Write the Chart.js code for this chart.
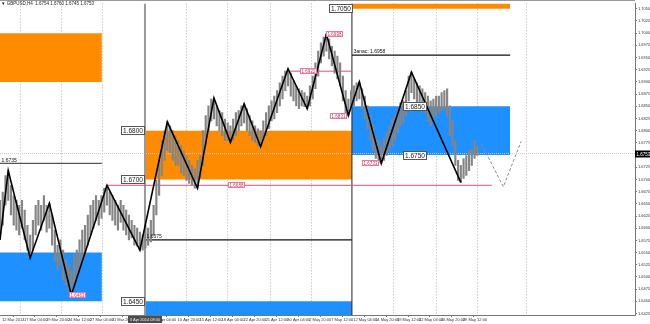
<!DOCTYPE html>
<html>
<head>
<meta charset="utf-8">
<script src="https://cdn.jsdelivr.net/npm/chart.js@4"></script>
<style>
  html, body { margin: 0; padding: 0; background: #fff; }
  #wrap { width: 650px; height: 324px; }
</style>
</head>
<body>
<div id="wrap"><canvas id="chart" width="650" height="324"></canvas></div>
<script>
// GBPUSD H4, one bar every two H4 periods (bar index = H4 period count from the left edge)
const timeLabels = ['12 Mar 2014', '17 Mar 04:00', '19 Mar 20:00', '24 Mar 12:00', '27 Mar 04:00', '31 Mar 20:00',
  '3 Apr 12:00', '8 Apr 04:00', '10 Apr 20:00', '15 Apr 12:00', '18 Apr 04:00', '22 Apr 20:00', '25 Apr 12:00',
  '30 Apr 04:00', '2 May 20:00', '7 May 12:00', '12 May 04:00', '14 May 20:00', '19 May 12:00', '22 May 04:00',
  '26 May 20:00', '29 May 12:00'];
const priceTicks = [1.6425, 1.6450, 1.6475, 1.6500, 1.6525, 1.6550, 1.6575, 1.6600, 1.6625, 1.6650, 1.6675,
  1.6700, 1.6725, 1.6750, 1.6775, 1.6800, 1.6825, 1.6850, 1.6875, 1.6900, 1.6925, 1.6950, 1.6975, 1.7000,
  1.7025, 1.7050];

const highs = [1.6657, 1.6674, 1.6708, 1.6718, 1.6688, 1.6667, 1.6657, 1.6647, 1.6657, 1.6637,
  1.6606, 1.6586, 1.6616, 1.6647, 1.6657, 1.6647, 1.6667, 1.6647, 1.6651, 1.6627,
  1.6596, 1.6565, 1.6576, 1.6555, 1.6535, 1.6525, 1.6514, 1.6545, 1.6555, 1.6576,
  1.6596, 1.6606, 1.6627, 1.6647, 1.6657, 1.6667, 1.6657, 1.6667, 1.6682, 1.6688,
  1.6674, 1.6667, 1.6657, 1.6647, 1.6657, 1.6647, 1.6637, 1.6627, 1.6616, 1.6606,
  1.6600, 1.6592, 1.6586, 1.6606, 1.6600, 1.6616, 1.6647, 1.6698, 1.6739, 1.6780,
  1.6800, 1.6818, 1.6810, 1.6800, 1.6790, 1.6780, 1.6769, 1.6759, 1.6749, 1.6739,
  1.6729, 1.6722, 1.6739, 1.6749, 1.6800, 1.6831, 1.6851, 1.6865, 1.6867, 1.6851,
  1.6841, 1.6837, 1.6824, 1.6816, 1.6810, 1.6824, 1.6837, 1.6841, 1.6851, 1.6855,
  1.6845, 1.6831, 1.6820, 1.6810, 1.6804, 1.6800, 1.6820, 1.6837, 1.6851, 1.6861,
  1.6871, 1.6882, 1.6898, 1.6912, 1.6922, 1.6927, 1.6918, 1.6902, 1.6892, 1.6886,
  1.6882, 1.6878, 1.6871, 1.6892, 1.6912, 1.6939, 1.6963, 1.6980, 1.6992, 1.6998,
  1.6988, 1.6973, 1.6963, 1.6953, 1.6939, 1.6912, 1.6882, 1.6865, 1.6882, 1.6892,
  1.6898, 1.6900, 1.6886, 1.6871, 1.6851, 1.6831, 1.6810, 1.6790, 1.6780, 1.6769,
  1.6784, 1.6796, 1.6810, 1.6824, 1.6831, 1.6845, 1.6857, 1.6861, 1.6882, 1.6912,
  1.6920, 1.6906, 1.6898, 1.6892, 1.6886, 1.6878, 1.6871, 1.6861, 1.6865, 1.6871,
  1.6871, 1.6878, 1.6882, 1.6886, 1.6851, 1.6820, 1.6780, 1.6739, 1.6729, 1.6743,
  1.6749, 1.6759, 1.6763, 1.6780, 1.6769];
const lows = [1.6592, 1.6606, 1.6647, 1.6657, 1.6627, 1.6606, 1.6596, 1.6586, 1.6600, 1.6576,
  1.6555, 1.6539, 1.6555, 1.6586, 1.6606, 1.6596, 1.6616, 1.6592, 1.6600, 1.6565,
  1.6531, 1.6514, 1.6525, 1.6494, 1.6484, 1.6474, 1.6463, 1.6484, 1.6504, 1.6514,
  1.6531, 1.6545, 1.6565, 1.6586, 1.6600, 1.6616, 1.6606, 1.6620, 1.6633, 1.6647,
  1.6627, 1.6616, 1.6606, 1.6596, 1.6612, 1.6596, 1.6586, 1.6576, 1.6580, 1.6565,
  1.6563, 1.6555, 1.6555, 1.6559, 1.6565, 1.6572, 1.6586, 1.6627, 1.6667, 1.6708,
  1.6739, 1.6759, 1.6755, 1.6739, 1.6729, 1.6729, 1.6714, 1.6708, 1.6698, 1.6692,
  1.6688, 1.6682, 1.6682, 1.6702, 1.6729, 1.6769, 1.6800, 1.6820, 1.6824, 1.6810,
  1.6800, 1.6790, 1.6780, 1.6780, 1.6776, 1.6780, 1.6790, 1.6800, 1.6810, 1.6816,
  1.6800, 1.6790, 1.6780, 1.6776, 1.6769, 1.6767, 1.6780, 1.6790, 1.6804, 1.6820,
  1.6824, 1.6837, 1.6851, 1.6865, 1.6882, 1.6892, 1.6871, 1.6861, 1.6851, 1.6845,
  1.6851, 1.6849, 1.6845, 1.6851, 1.6865, 1.6886, 1.6912, 1.6939, 1.6953, 1.6963,
  1.6947, 1.6933, 1.6918, 1.6906, 1.6892, 1.6861, 1.6837, 1.6831, 1.6841, 1.6851,
  1.6861, 1.6865, 1.6845, 1.6824, 1.6804, 1.6780, 1.6759, 1.6743, 1.6735, 1.6733,
  1.6739, 1.6749, 1.6759, 1.6769, 1.6780, 1.6796, 1.6810, 1.6816, 1.6831, 1.6861,
  1.6878, 1.6865, 1.6857, 1.6851, 1.6845, 1.6837, 1.6820, 1.6810, 1.6824, 1.6831,
  1.6837, 1.6841, 1.6845, 1.6831, 1.6790, 1.6769, 1.6729, 1.6698, 1.6694, 1.6702,
  1.6708, 1.6718, 1.6729, 1.6743, 1.6749];
const barIdx = highs.map((_, i) => i * 2);

// zigzag swings and the projected continuation
const zigIdx = [0, 6, 22, 36, 52, 78, 102, 122, 144, 156, 168, 178, 190, 210, 224, 238, 254, 262, 278, 300, 336];
const zigPrice = [1.6576, 1.6718, 1.6539, 1.6651, 1.6463, 1.6688, 1.6555, 1.6818, 1.6682, 1.6867, 1.6776,
  1.6855, 1.6767, 1.6927, 1.6845, 1.6998, 1.6831, 1.6900, 1.6733, 1.6920, 1.6694];
const projIdx = [351, 367, 380];
const projPrice = [1.6773, 1.6685, 1.6778];

// supply (orange) / demand (blue) zones
const zoneFrom = [0, 0, 105.7, 105.7, 256.6, 256.6];
const zoneTo = [74.3, 74.3, 256.6, 256.6, 372, 372];
const zoneHigh = [1.7000, 1.6550, 1.6800, 1.6450, 1.7150, 1.6850];
const zoneLow = [1.6900, 1.6450, 1.6700, 1.6350, 1.7050, 1.6750];
const zoneSupply = [true, false, true, false, true, false];

// black levels with captions
const levelFrom = [0, 105.7, 256.6];
const levelTo = [74.3, 256.6, 372];
const levelPrice = [1.6733, 1.6576, 1.6955];
const levelText = ['1.6735', '1.6575', 'Запас: 1.6958'];

// pink swing levels and tags
const swingFrom = [78, 210];
const swingTo = [358.6, 256.6];
const swingPrice = [1.6688, 1.6922];
const swingTagIdx = [56.5, 172.8, 225, 244, 247, 270];
const swingTagPrice = [1.6463, 1.6688, 1.6922, 1.6998, 1.6831, 1.6733];

// boxed zone prices
const boxTagIdx = [97.3, 97.3, 97.3, 248.5, 302.5, 302.5];
const boxTagPrice = [1.6800, 1.6700, 1.6450, 1.7050, 1.6850, 1.6750];

const separatorIdx = [105.7, 256.6];
const gridIdx = [15, 45, 75, 136, 166, 197, 227, 287, 318, 348, 384];
const lastPrice = 1.6753;

const X_MAX = 463, Y_MIN = 1.6422, Y_MAX = 1.7061;
const FONT = '"Liberation Sans", Arial, sans-serif';

const datasets = [];
datasets.push({
  type: 'line', label: 'zigzag', order: 1,
  data: zigIdx.map((x, i) => ({ x, y: zigPrice[i] })),
  borderColor: '#000', borderWidth: 1.6, pointRadius: 0, tension: 0
});
datasets.push({
  type: 'line', label: 'projection', order: 2,
  data: projIdx.map((x, i) => ({ x, y: projPrice[i] })),
  borderColor: '#8c8c8c', borderWidth: 1, borderDash: [3, 2], pointRadius: 0
});
datasets.push({
  type: 'bar', label: 'GBPUSD', order: 3, grouped: false,
  data: barIdx.map((x, i) => ({ x, y: [lows[i], highs[i]] })),
  backgroundColor: '#858585', borderWidth: 0, barThickness: 1.5
});
levelPrice.forEach((p, i) => datasets.push({
  type: 'line', order: 5,
  data: [{ x: levelFrom[i], y: p }, { x: levelTo[i], y: p }],
  borderColor: i === 0 ? '#555' : '#111', borderWidth: 1.2, pointRadius: 0
}));
swingPrice.forEach((p, i) => datasets.push({
  type: 'line', order: 5,
  data: [{ x: swingFrom[i], y: p }, { x: swingTo[i], y: p }],
  borderColor: '#d9507c', borderWidth: 1, pointRadius: 0
}));
datasets.push({
  type: 'line', order: 7,
  data: [{ x: 0, y: lastPrice }, { x: X_MAX, y: lastPrice }],
  borderColor: '#c9c9c9', borderWidth: 1, borderDash: [1, 1], pointRadius: 0
});
separatorIdx.forEach((s, i) => datasets.push({
  type: 'line', order: 6,
  data: [{ x: s, y: Y_MIN }, { x: s, y: Y_MAX }],
  borderColor: i === 0 ? '#9a9a9a' : '#222', borderWidth: i === 0 ? 2 : 1, pointRadius: 0
}));
zoneHigh.forEach((top, i) => datasets.push({
  type: 'line', order: 10,
  data: [{ x: zoneFrom[i], y: top }, { x: zoneTo[i], y: top }],
  fill: { value: zoneLow[i] },
  backgroundColor: zoneSupply[i] ? '#ff8c00' : '#1e90ff',
  borderWidth: 0, pointRadius: 0
}));

function tag(ctx, cx, cy, text, font, fg, border, bg, padX, h) {
  ctx.font = font;
  const w = Math.round(ctx.measureText(text).width + padX * 2);
  const left = Math.round(cx - w / 2), top = Math.round(cy - h / 2);
  ctx.fillStyle = bg;
  ctx.fillRect(left, top, w, h);
  if (border) {
    ctx.strokeStyle = border;
    ctx.lineWidth = 1;
    ctx.strokeRect(left + 0.5, top + 0.5, w - 1, h - 1);
  }
  ctx.fillStyle = fg;
  ctx.textAlign = 'center';
  ctx.textBaseline = 'middle';
  ctx.fillText(text, left + w / 2, top + h / 2 + 0.5);
}

const overlay = {
  id: 'overlay',
  afterDatasetsDraw(chart) {
    const { ctx, scales: { x, y } } = chart;
    ctx.save();
    // captions above black levels
    ctx.font = '5px ' + FONT;
    ctx.fillStyle = '#111';
    ctx.textAlign = 'left';
    ctx.textBaseline = 'bottom';
    levelText.forEach((t, i) => {
      ctx.fillText(t, x.getPixelForValue(levelFrom[i]) + 1.5, y.getPixelForValue(levelPrice[i]) - 0.5);
    });
    // pink swing tags
    swingTagIdx.forEach((s, i) => {
      tag(ctx, x.getPixelForValue(s), y.getPixelForValue(swingTagPrice[i]), swingTagPrice[i].toFixed(4),
        '4.5px ' + FONT, '#d0305a', '#e87a98', '#fff', 1.5, 6);
    });
    // boxed zone prices
    boxTagIdx.forEach((s, i) => {
      tag(ctx, x.getPixelForValue(s), y.getPixelForValue(boxTagPrice[i]), boxTagPrice[i].toFixed(4),
        '6.5px ' + FONT, '#222', '#555', '#fff', 2, 9);
    });
    ctx.restore();
  },
  afterDraw(chart) {
    const { ctx, chartArea, scales: { x, y } } = chart;
    ctx.save();
    // top frame line
    ctx.strokeStyle = '#999';
    ctx.lineWidth = 1;
    ctx.beginPath();
    ctx.moveTo(0, 0.5);
    ctx.lineTo(chartArea.right, 0.5);
    ctx.stroke();
    // symbol caption
    ctx.font = '4.5px ' + FONT;
    ctx.fillStyle = '#222';
    ctx.textAlign = 'left';
    ctx.textBaseline = 'top';
    ctx.fillText('\u25BC GBPUSD,H4  1.6754 1.6760 1.6745 1.6753', 1, 2);
    // current price on the axis
    const py = Math.round(y.getPixelForValue(lastPrice));
    ctx.fillStyle = '#000';
    ctx.fillRect(chartArea.right, py - 3.5, 15, 7);
    ctx.fillStyle = '#fff';
    ctx.font = '4.5px ' + FONT;
    ctx.textBaseline = 'middle';
    ctx.fillText(lastPrice.toFixed(4), chartArea.right + 1.5, py + 0.5);
    // time label of the separator line
    tag(ctx, x.getPixelForValue(separatorIdx[0]), chartArea.bottom + 4.5, '3 Apr 2014 08:00',
      '4px ' + FONT, '#eee', null, '#4d4d4d', 1.5, 7);
    ctx.restore();
  }
};

new Chart(document.getElementById('chart'), {
  type: 'line',
  data: { datasets },
  options: {
    responsive: false,
    animation: false,
    events: [],
    layout: { padding: { top: 1, left: 0, right: 0, bottom: 0 } },
    plugins: { legend: { display: false }, tooltip: { enabled: false } },
    scales: {
      x: {
        type: 'linear', min: 0, max: X_MAX, offset: false, position: 'bottom',
        afterBuildTicks: s => { s.ticks = timeLabels.map((t, i) => ({ value: 1.5 + 16 * i })); },
        afterFit: s => { s.height = 9; },
        ticks: {
          autoSkip: false, maxRotation: 0, align: 'start', padding: 0,
          font: { size: 4, family: FONT }, color: '#333',
          callback: (v, i) => timeLabels[i]
        },
        grid: { drawOnChartArea: false, drawTicks: true, tickLength: 2, color: '#777' },
        border: { color: '#777' }
      },
      xg: {
        type: 'linear', min: 0, max: X_MAX, offset: false, position: 'bottom',
        afterBuildTicks: s => { s.ticks = gridIdx.map(v => ({ value: v })); },
        afterFit: s => { s.height = 0; },
        ticks: { display: false },
        grid: { drawTicks: false, color: '#b4b4b4', lineWidth: 1 },
        border: { display: false, dash: [1, 2] }
      },
      y: {
        type: 'linear', min: Y_MIN, max: Y_MAX, position: 'right',
        afterBuildTicks: s => { s.ticks = priceTicks.map(v => ({ value: v })); },
        afterFit: s => { s.width = 15; },
        ticks: {
          autoSkip: false, padding: 1,
          font: { size: 4, family: FONT }, color: '#333',
          callback: v => v.toFixed(4)
        },
        grid: { drawOnChartArea: false, drawTicks: true, tickLength: 2, color: '#777' },
        border: { color: '#777' }
      }
    }
  },
  plugins: [overlay]
});
</script>
</body>
</html>
